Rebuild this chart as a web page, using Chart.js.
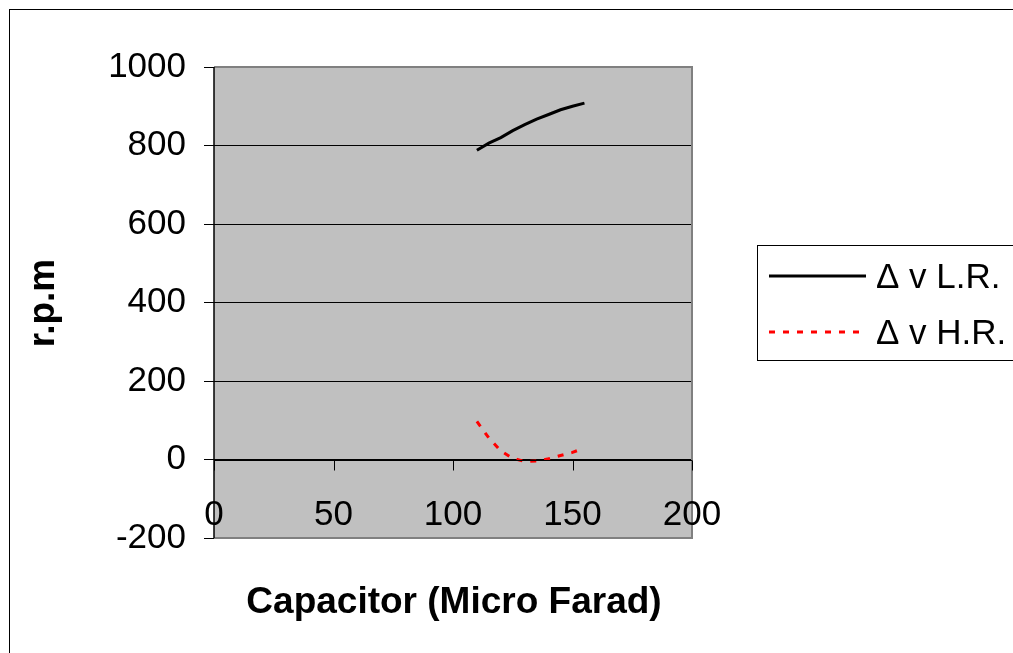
<!DOCTYPE html>
<html>
<head>
<meta charset="utf-8">
<script src="https://cdn.jsdelivr.net/npm/chart.js@4.4.1/dist/chart.umd.min.js"></script>
<style>
  html, body { margin: 0; padding: 0; background: #fff; }
  canvas { display: block; }
</style>
</head>
<body>
<canvas id="chart" width="1013" height="653"></canvas>
<script>
// speed vs capacitor, low and high resistance
const lrCap = [110, 115, 120, 125, 130, 135, 140, 145, 150, 155]
const lrRpm = [788, 806, 820, 838, 853, 867, 879, 891, 900, 908]
const hrCap = [110, 115, 120, 125, 130, 135, 140, 145, 150, 153]
const hrRpm = [97, 55, 22, 3, -5, -4, 2, 10, 18, 25]

const xTicks = [0, 50, 100, 150, 200]
const yTicks = [-200, 0, 200, 400, 600, 800, 1000]

const seriesNames = ['\u0394 v L.R.', '\u0394 v H.R.']
const xTitle = 'Capacitor (Micro Farad)'
const yTitle = 'r.p.m'

const FONT = '"Liberation Sans", Arial, sans-serif'

const toPoints = function(xs, ys) {
  return xs.map(function(x, i) { return { x: x, y: ys[i] } })
}

const frame = {
  id: 'frame',
  beforeDraw(chart) {
    const ctx = chart.ctx
    const a = chart.chartArea
    ctx.save()
    ctx.fillStyle = '#fff'
    ctx.fillRect(0, 0, chart.width, chart.height)
    ctx.fillStyle = '#c0c0c0'
    ctx.fillRect(a.left, a.top, a.right - a.left, a.bottom - a.top)
    ctx.restore()
  },
  afterDraw(chart) {
    const ctx = chart.ctx
    const a = chart.chartArea
    const xs = chart.scales.x
    const ys = chart.scales.y
    const y0 = Math.round(ys.getPixelForValue(0)) + 0.5

    ctx.save()
    // plot border
    ctx.strokeStyle = '#808080'
    ctx.lineWidth = 2
    ctx.beginPath()
    ctx.moveTo(a.left, a.top)
    ctx.lineTo(a.right, a.top)
    ctx.lineTo(a.right, a.bottom)
    ctx.lineTo(a.left, a.bottom)
    ctx.stroke()
    ctx.strokeStyle = '#000'
    ctx.lineWidth = 1.5
    ctx.beginPath()
    ctx.moveTo(a.left, a.top)
    ctx.lineTo(a.left, a.bottom)
    ctx.stroke()

    // x axis sits on the zero line
    ctx.lineWidth = 1
    ctx.beginPath()
    ctx.moveTo(a.left, y0)
    ctx.lineTo(a.right, y0)
    xTicks.forEach(function(v) {
      const px = Math.round(xs.getPixelForValue(v)) + 0.5
      ctx.moveTo(px, y0)
      ctx.lineTo(px, y0 + 10)
    })
    ctx.stroke()

    ctx.fillStyle = '#000'
    ctx.font = '35px ' + FONT
    ctx.textAlign = 'center'
    ctx.textBaseline = 'middle'
    xTicks.forEach(function(v) {
      ctx.fillText(String(v), xs.getPixelForValue(v), y0 + 55)
    })

    // axis titles
    ctx.font = 'bold 37px ' + FONT
    ctx.fillText(xTitle, 454, 603)
    ctx.save()
    ctx.translate(44, 303)
    ctx.rotate(-Math.PI / 2)
    ctx.fillText(yTitle, 0, 0)
    ctx.restore()

    // legend
    ctx.strokeStyle = '#000'
    ctx.lineWidth = 1
    ctx.strokeRect(757.5, 245.5, 270, 115)
    ctx.font = '35px ' + FONT
    ctx.textAlign = 'left'
    chart.data.datasets.forEach(function(ds, i) {
      const ly = 276 + i * 56
      ctx.strokeStyle = ds.borderColor
      ctx.lineWidth = ds.borderWidth
      ctx.setLineDash(ds.borderDash || [])
      ctx.beginPath()
      ctx.moveTo(769, ly)
      ctx.lineTo(866, ly)
      ctx.stroke()
      ctx.setLineDash([])
      ctx.fillStyle = '#000'
      ctx.fillText(ds.label, 876, ly + 2)
    })

    // outer frame
    ctx.strokeStyle = '#000'
    ctx.lineWidth = 1
    ctx.strokeRect(9.5, 9.5, 1020, 660)
    ctx.restore()
  }
}

new Chart(document.getElementById('chart'), {
  type: 'scatter',
  data: {
    datasets: [
      {
        label: seriesNames[0],
        data: toPoints(lrCap, lrRpm),
        showLine: true,
        borderColor: '#000',
        borderWidth: 3,
        pointRadius: 0,
        tension: 0
      },
      {
        label: seriesNames[1],
        data: toPoints(hrCap, hrRpm),
        showLine: true,
        borderColor: '#ff0000',
        borderWidth: 3,
        borderDash: [6, 8],
        pointRadius: 0,
        tension: 0
      }
    ]
  },
  options: {
    responsive: false,
    animation: false,
    layout: { padding: { top: 67, right: 321, bottom: 115, left: 0 } },
    plugins: {
      legend: { display: false },
      tooltip: { enabled: false }
    },
    scales: {
      x: {
        type: 'linear',
        display: false,
        min: 0,
        max: 200
      },
      y: {
        type: 'linear',
        min: -200,
        max: 1000,
        afterFit(scale) { scale.width = 214 },
        afterBuildTicks(scale) {
          scale.ticks = yTicks.map(function(v) { return { value: v } })
        },
        ticks: {
          color: '#000',
          padding: 18,
          font: { family: FONT, size: 35 },
          autoSkip: false,
          callback: function(v) { return String(v) }
        },
        grid: { color: '#000', lineWidth: 1, tickLength: 10 },
        border: { display: false }
      }
    }
  },
  plugins: [frame]
})
</script>
</body>
</html>
